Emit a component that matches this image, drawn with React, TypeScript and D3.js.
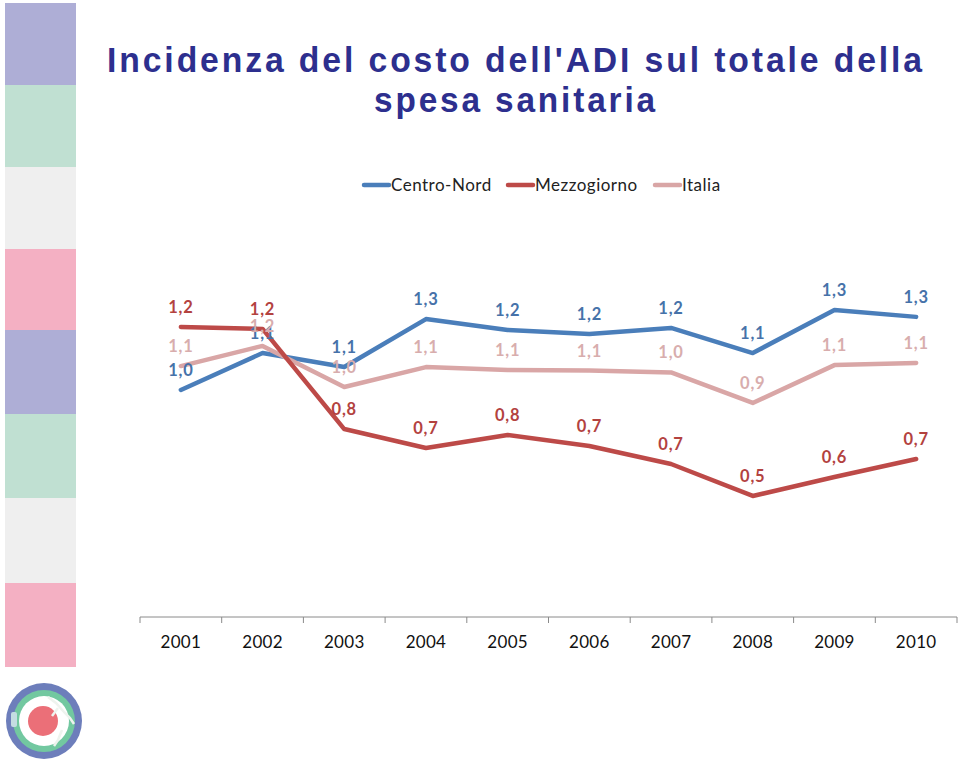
import React from "react";
import * as d3 from "d3";

const years = ["2001", "2002", "2003", "2004", "2005", "2006", "2007", "2008", "2009", "2010"];
const centroNord = [0.973, 1.123, 1.066, 1.261, 1.217, 1.2, 1.225, 1.123, 1.298, 1.27];
const mezzogiorno = [1.229, 1.221, 0.814, 0.737, 0.79, 0.745, 0.672, 0.542, 0.619, 0.692];
const italia = [1.07, 1.152, 0.985, 1.066, 1.054, 1.052, 1.044, 0.92, 1.074, 1.083];
const seriesNames = ["Centro-Nord", "Mezzogiorno", "Italia"];
const titleLines = ["Incidenza del costo dell'ADI sul totale della", "spesa sanitaria"];
const stripColors = ["#aeaed6", "#c0e0d2", "#efefef", "#f4b0c3", "#aeaed6", "#c0e0d2", "#efefef", "#f4b0c3"];
const stripEdges = [3, 85, 167, 249, 330, 414, 498, 583, 667];

const W = 960;
const H = 759;

export default function App() {
  const x = d3.scaleBand<string>().domain(years).range([140, 957]).padding(0);
  const y = d3.scaleLinear().domain([0.05, 1.4]).range([617, 617 - 1.35 * 246]);
  const cx = (d: string) => (x(d) as number) + x.bandwidth() / 2;

  const series = [
    { name: seriesNames[0], values: centroNord, color: "#4a7eba", label: "#4672a9" },
    { name: seriesNames[1], values: mezzogiorno, color: "#bd4a48", label: "#b3423f" },
    { name: seriesNames[2], values: italia, color: "#d9a6a6", label: "#d8adad" },
  ];
  const drawOrder = [0, 2, 1];

  const line = d3
    .line<number>()
    .x((_, i) => cx(years[i]))
    .y((v) => y(v));

  const fmt = (v: number) => d3.format(".1f")(v).replace(".", ",");
  const font = "Lato, 'Open Sans', sans-serif";

  const legendItems = [
    { x: 364, s: series[0] },
    { x: 508, s: series[1] },
    { x: 655, s: series[2] },
  ];

  const ticks = [...years.map((d) => x(d) as number), 957];
  const titleLens = [818, 284];

  return (
    <svg width={W} height={H} style={{ position: "absolute", left: 0, top: 0, background: "#fff" }}>
      <rect x={0} y={0} width={W} height={H} fill="#fff" />
      {stripColors.map((c, i) => (
        <rect key={i} x={5} y={stripEdges[i]} width={71} height={stripEdges[i + 1] - stripEdges[i]} fill={c} />
      ))}

      {/* logo */}
      <g>
        <circle cx={44} cy={721} r={38} fill="#6d7ebb" />
        <circle cx={44} cy={721} r={31} fill="#72c8a0" />
        <circle cx={44} cy={721} r={25} fill="#ffffff" />
        <circle cx={43} cy={721} r={15} fill="#eb6f78" />
        <path d="M48,697 L56,703 L64,712 L70,718 L74,724 M58,708 L52,716 M62,730 L58,740 L54,746" stroke="#eef3ee" strokeWidth={2.5} fill="none" />
        <rect x={11} y={712} width={6} height={15} rx={2} fill="#c4dde2" />
      </g>

      {/* title */}
      {titleLines.map((t, i) => (
        <text
          key={i}
          x={516}
          y={72 + i * 40}
          textAnchor="middle"
          fontFamily="'Liberation Sans', Arial, sans-serif"
          fontWeight="bold"
          fontSize={35}
          letterSpacing={3}
          textLength={titleLens[i]}
          lengthAdjust="spacingAndGlyphs"
          fill="#2d2f8e"
        >
          {t}
        </text>
      ))}

      {/* legend */}
      {legendItems.map((it, i) => (
        <g key={i}>
          <line x1={it.x} x2={it.x + 25} y1={185} y2={185} stroke={it.s.color} strokeWidth={4.5} strokeLinecap="round" />
          <text x={it.x + 27} y={191} fontFamily={font} fontSize={17} letterSpacing={0.5} fill="#222">
            {it.s.name}
          </text>
        </g>
      ))}

      {/* axis */}
      <line x1={140} x2={957} y1={617} y2={617} stroke="#8a8a8a" strokeWidth={1} />
      {ticks.map((t, i) => (
        <line key={i} x1={t} x2={t} y1={617} y2={623} stroke="#8a8a8a" strokeWidth={1} />
      ))}
      {years.map((d) => (
        <text key={d} x={cx(d)} y={648} textAnchor="middle" fontFamily={font} fontSize={17} letterSpacing={0.3} fill="#111">
          {d}
        </text>
      ))}

      {/* lines */}
      {drawOrder.map((k) => (
        <path
          key={k}
          d={line(series[k].values) as string}
          fill="none"
          stroke={series[k].color}
          strokeWidth={4.5}
          strokeLinejoin="round"
          strokeLinecap="round"
        />
      ))}

      {/* labels */}
      {drawOrder.map((k) =>
        series[k].values.map((v, i) => (
          <text
            key={`${k}-${i}`}
            x={cx(years[i])}
            y={y(v) - 14}
            textAnchor="middle"
            fontFamily={font}
            fontWeight="bold"
            fontSize={16.5}
            letterSpacing={0.8}
            fill={series[k].label}
          >
            {fmt(v)}
          </text>
        ))
      )}
    </svg>
  );
}
